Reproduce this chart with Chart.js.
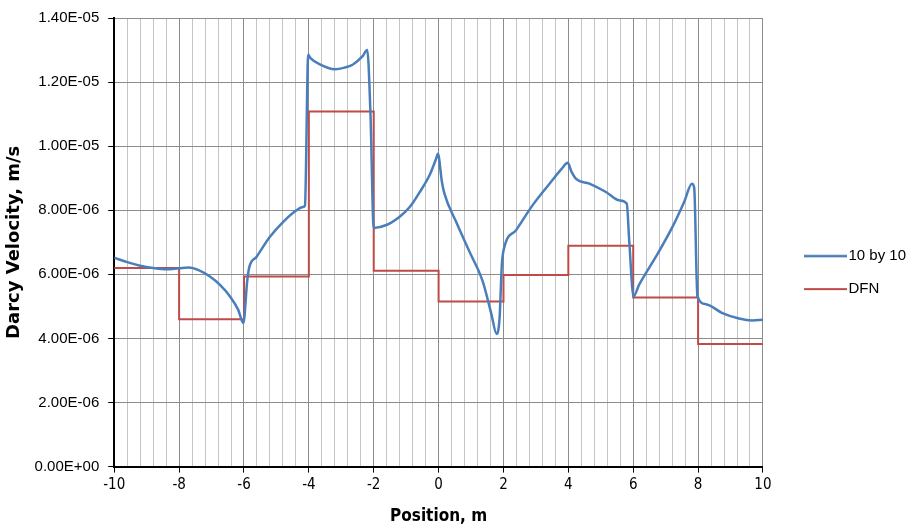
<!DOCTYPE html>
<html>
<head>
<meta charset="utf-8">
<script src="https://cdn.jsdelivr.net/npm/chart.js@4.4.1/dist/chart.umd.min.js"></script>
<style>
  html, body { margin: 0; padding: 0; background: #fff; }
  #wrap { width: 916px; height: 529px; }
</style>
</head>
<body>
<div id="wrap"><canvas id="chart" width="916" height="529"></canvas></div>
<script>
/* ================= DATA ================= */

// 10 by 10 model: position (m) and Darcy velocity (1e-6 m/s)
const gridPos = [
  -10, -9.6, -9.2, -8.8, -8.4, -8.0, -7.7, -7.4, -7.05, -6.74, -6.43, -6.18, -6.02,
  -5.9, -5.84, -5.61, -5.2, -4.79, -4.38, -4.18, -4.12, -4.02, -3.95, -3.66, -3.2,
  -2.9, -2.64, -2.35, -2.2, -2.1, -2.0, -1.61, -1.2, -0.89, -0.58, -0.28, -0.08,
  -0.02, 0.1, 0.18, 0.54, 0.95, 1.36, 1.62, 1.79, 1.88, 1.95, 2.03, 2.39, 2.9,
  3.42, 3.8, 3.98, 4.1, 4.24, 4.65, 5.16, 5.57, 5.8, 5.88, 6.01, 6.18, 6.7, 7.21,
  7.57, 7.81, 7.88, 7.98, 8.24, 8.75, 9.26, 9.67, 10
];
const gridVel = [
  6.52, 6.38, 6.27, 6.2, 6.16, 6.19, 6.21, 6.13, 5.93, 5.67, 5.31, 4.9, 4.48,
  5.8, 6.21, 6.55, 7.17, 7.64, 8.0, 8.1, 8.15, 12.85, 12.75, 12.55, 12.4,
  12.45, 12.55, 12.8, 13.0, 11.0, 7.45, 7.54, 7.8, 8.1, 8.57, 9.09, 9.6,
  9.76, 8.9, 8.52, 7.64, 6.71, 5.78, 4.79, 4.14, 4.64, 6.3, 6.86, 7.38, 8.16,
  8.83, 9.3, 9.48, 9.2, 8.98, 8.83, 8.57, 8.31, 8.21, 7.0, 5.31, 5.67, 6.55, 7.48,
  8.26, 8.83, 8.7, 5.31, 5.07, 4.79, 4.62, 4.56, 4.58
];

// DFN model: step starts and velocity of each step (1e-6 m/s)
const dfnPos = [-10, -8, -6, -4, -2, 0, 2, 4, 6, 8, 10];
const dfnVel = [6.2, 4.6, 5.93, 11.08, 6.11, 5.15, 5.98, 6.89, 5.28, 3.83, 3.83];

const seriesNames = ["10 by 10", "DFN"];
const seriesColors = ["#4a7ebb", "#be4b48"];

/* ================= HELPERS ================= */

function toPoints(xs, ys) {
  return xs.map((x, i) => ({ x: x, y: ys[i] * 1e-6 }));
}

function sciLabel(v) {
  if (Math.abs(v) < 1e-12) return "0.00E+00";
  const [m, e] = v.toExponential(2).split("e");
  const n = parseInt(e, 10);
  const pad = String(Math.abs(n)).padStart(2, "0");
  return m + "E" + (n < 0 ? "-" : "+") + pad;
}

function isMajor(v) {
  return Math.abs(v / 2 - Math.round(v / 2)) < 1e-6;
}

// legend swatch: a short line sitting at the right end of a wider transparent canvas
function legendLine(color, width) {
  const c = document.createElement("canvas");
  c.width = 72;
  c.height = 4;
  const g = c.getContext("2d");
  g.strokeStyle = color;
  g.lineWidth = width;
  g.beginPath();
  g.moveTo(72 - 43, 2);
  g.lineTo(72, 2);
  g.stroke();
  return c;
}

/* ================= CHART ================= */

const ctx = document.getElementById("chart");

new Chart(ctx, {
  type: "scatter",
  data: {
    datasets: [
      {
        label: seriesNames[0],
        data: toPoints(gridPos, gridVel),
        showLine: true,
        borderColor: seriesColors[0],
        backgroundColor: seriesColors[0],
        borderWidth: 2.5,
        pointRadius: 0,
        pointStyle: legendLine(seriesColors[0], 2.5),
        cubicInterpolationMode: "monotone"
      },
      {
        label: seriesNames[1],
        data: toPoints(dfnPos, dfnVel),
        showLine: true,
        stepped: "before",
        borderColor: seriesColors[1],
        backgroundColor: seriesColors[1],
        borderWidth: 2,
        pointRadius: 0,
        pointStyle: legendLine(seriesColors[1], 2)
      }
    ]
  },
  options: {
    responsive: false,
    animation: false,
    layout: { padding: { top: 4, right: 0, bottom: 2, left: 0 } },
    plugins: {
      tooltip: { enabled: false },
      legend: {
        position: "right",
        title: { display: true, text: "", padding: 6.5, font: { size: 1 } },
        labels: {
          usePointStyle: true,
          pointStyleWidth: 60,
          boxHeight: 4,
          padding: 18,
          color: "#000",
          font: { family: "Liberation Sans, Arial, sans-serif", size: 15 }
        }
      }
    },
    scales: {
      x: {
        type: "linear",
        min: -10,
        max: 10,
        border: { color: "#000", width: 2 },
        grid: {
          color: (c) => (isMajor(c.tick.value) ? "#8c8c8c" : "#c4c4c4"),
          tickColor: (c) => (isMajor(c.tick.value) ? "#000" : "rgba(0,0,0,0)"),
          tickLength: 6,
          lineWidth: 1
        },
        ticks: {
          stepSize: 0.4,
          autoSkip: false,
          maxRotation: 0,
          color: "#000",
          padding: 4,
          font: { family: "Liberation Sans Narrow, DejaVu Sans Condensed, sans-serif", size: 15 },
          callback: (v) => (isMajor(v) ? String(Math.round(v)) : "")
        },
        title: {
          display: true,
          text: "Position, m",
          color: "#000",
          padding: { top: 8, bottom: 0 },
          font: { family: "Liberation Sans Narrow, DejaVu Sans Condensed, sans-serif", size: 17, weight: "bold" }
        }
      },
      y: {
        min: 0,
        max: 1.4e-5,
        border: { color: "#000", width: 2 },
        grid: {
          color: "#8c8c8c",
          tickColor: "#000",
          tickLength: 6,
          lineWidth: 1
        },
        ticks: {
          stepSize: 2e-6,
          color: "#000",
          padding: 9,
          font: { family: "Liberation Sans, Arial, sans-serif", size: 15 },
          callback: (v) => sciLabel(v)
        },
        title: {
          display: true,
          text: "Darcy Velocity, m/s",
          color: "#000",
          padding: { top: 4, bottom: 0 },
          font: { family: "DejaVu Sans, sans-serif", size: 18, weight: "bold" }
        }
      }
    }
  }
});
</script>
</body>
</html>
